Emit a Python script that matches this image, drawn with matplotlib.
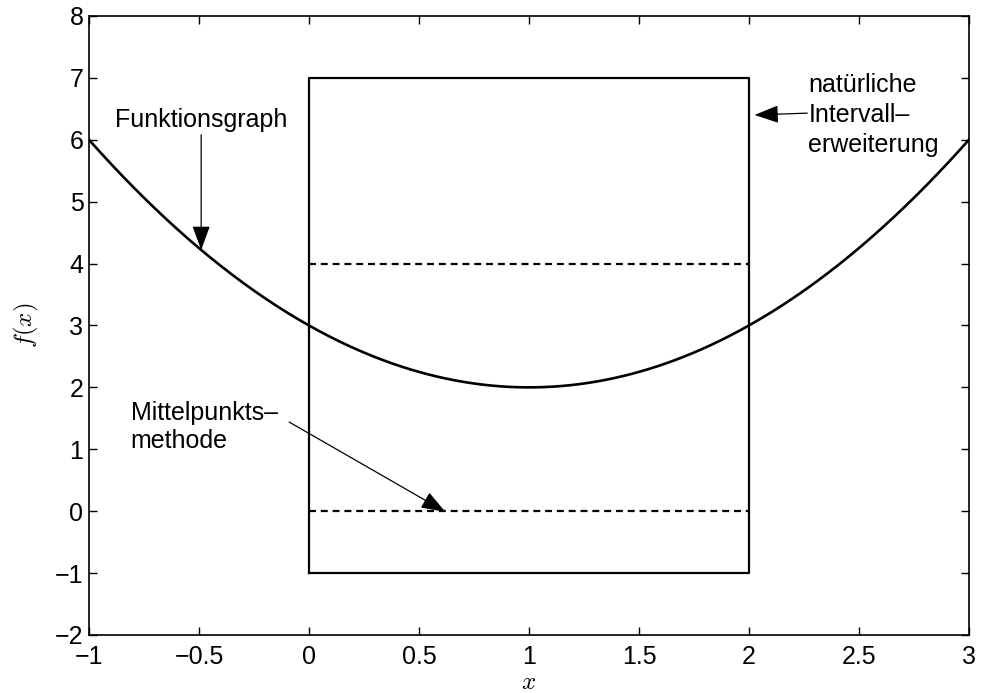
import numpy as np
from matplotlib import pyplot as plt

plt.rcParams['font.family'] = 'Liberation Sans'
plt.rcParams['mathtext.fontset'] = 'cm'
plt.rcParams['lines.scale_dashes'] = False

# function graph f(x) = (x-1)^2 + 2
x = np.linspace(-1, 3, 400)
fx = (x - 1) ** 2 + 2

# natural interval extension box and midpoint method bounds
box_x = [0, 2]
box_y = [-1, 7]
mid_y = [0, 4]

xticks = [-1, -0.5, 0, 0.5, 1, 1.5, 2, 2.5, 3]
xticklabels = ['\u22121', '\u22120.5', '0', '0.5', '1', '1.5', '2', '2.5', '3']
yticks = list(range(-2, 9))
yticklabels = [str(v).replace('-', '\u2212') for v in yticks]

fig = plt.figure(figsize=(9.81, 6.93), dpi=100)
ax = fig.add_axes([0.0907, 0.0837, 0.897, 0.8933])

ax.plot(x, fx, color='black', lw=1.9)
ax.plot([box_x[0], box_x[1], box_x[1], box_x[0], box_x[0]],
        [box_y[0], box_y[0], box_y[1], box_y[1], box_y[0]],
        color='black', lw=1.6)
for yv in mid_y:
    ax.plot(box_x, [yv, yv], color='black', lw=1.6, dashes=(5, 3.5))

arrow = dict(arrowstyle='-|>,head_length=1.5,head_width=0.55',
             color='black', lw=0.9, shrinkA=0, shrinkB=0)
ax.annotate('', xy=(-0.49, 4.22), xytext=(-0.49, 6.08), arrowprops=arrow)
ax.text(-0.49, 6.32, 'Funktionsgraph', fontsize=18, ha='center', va='center')

ax.annotate('', xy=(2.025, 6.4), xytext=(2.265, 6.43), arrowprops=arrow)
ax.text(2.27, 6.4, 'natürliche\nIntervall\u2013\nerweiterung', fontsize=18,
        ha='left', va='center', linespacing=1.3)

ax.annotate('', xy=(0.62, -0.01), xytext=(-0.09, 1.44), arrowprops=arrow)
ax.text(-0.81, 1.36, 'Mittelpunkts\u2013\nmethode', fontsize=18,
        ha='left', va='center', linespacing=1.2)

ax.set_xlim(-1, 3)
ax.set_ylim(-2, 8)
ax.set_xticks(xticks)
ax.set_xticklabels(xticklabels)
ax.set_yticks(yticks)
ax.set_yticklabels(yticklabels)
ax.tick_params(direction='in', length=6, width=1.0, top=True, right=True,
               labelsize=18, pad=4)
ax.tick_params(axis='x', pad=7)
for sp in ax.spines.values():
    sp.set_linewidth(1.2)

ax.set_xlabel('$x$', fontsize=18, labelpad=1)
ax.set_ylabel('$f(x)$', fontsize=18, labelpad=10)

fig.savefig('out.png', dpi=100)
